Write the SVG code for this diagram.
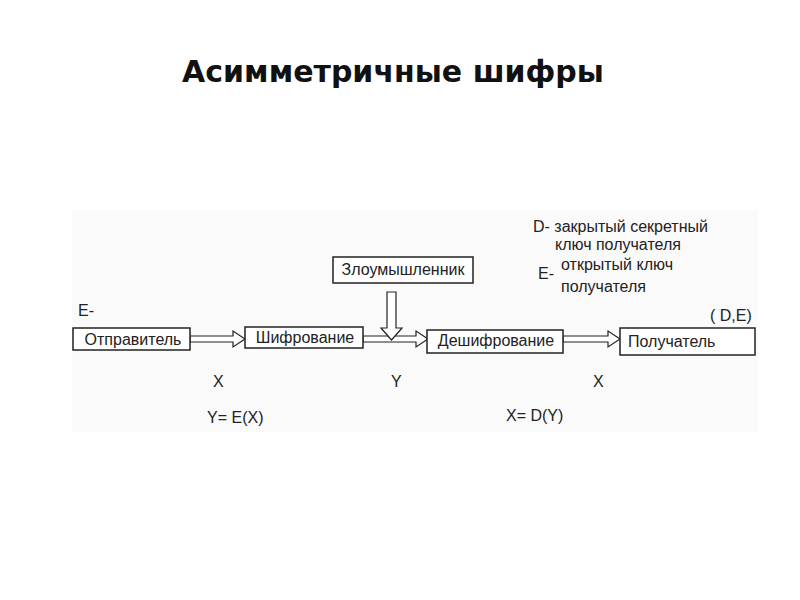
<svg xmlns="http://www.w3.org/2000/svg" width="800" height="600" viewBox="0 0 800 600">
<style>
.t{font-family:"Liberation Sans",Arial,sans-serif;font-size:16px;fill:#222}
.box{fill:#fff;stroke:#222;stroke-width:1.5}
.arr{fill:#fff;stroke:#222;stroke-width:1.2}
.title{font-family:"DejaVu Sans",Verdana,sans-serif;font-weight:bold;font-size:30px;fill:#111}
</style>
<rect width="800" height="600" fill="#fff"/>
<text class="title" x="393" y="82" text-anchor="middle">Асимметричные шифры</text>
<rect x="72" y="210" width="686" height="222" fill="#fafafa"/>
<g id="connectors">
<path class="arr" d="M190,336 H233 V331 L245,339 L233,347 V342 H190 Z"/>
<path class="arr" d="M363,336 H416 V331 L428,339 L416,347 V342 H363 Z"/>
<path class="arr" d="M563,336 H608 V331 L620,339 L608,347 V342 H563 Z"/>
<path class="arr" d="M387,292 V328 H381 L391.5,340 L402,328 H396 V292 Z"/>
</g>
<g id="sender"><rect class="box" x="73" y="328" width="117" height="22"/><text class="t" x="133" y="345" text-anchor="middle">Отправитель</text></g>
<g id="encrypt"><rect class="box" x="245" y="327" width="118" height="21"/><text class="t" x="305" y="343" text-anchor="middle">Шифрование</text></g>
<g id="attacker"><rect class="box" x="333" y="257" width="140" height="26"/><text class="t" x="403" y="275" text-anchor="middle">Злоумышленник</text></g>
<g id="decrypt"><rect class="box" x="427" y="330" width="136" height="23"/><text class="t" x="496" y="346" text-anchor="middle">Дешифрование</text></g>
<g id="receiver"><rect class="box" x="620" y="328" width="135" height="27"/><text class="t" x="628" y="347">Получатель</text></g>
<g id="labels">
<text class="t" x="78" y="316">E-</text>
<text class="t" x="710" y="321">( D,E)</text>
<text class="t" x="533" y="232">D- закрытый секретный</text>
<text class="t" x="555" y="250">ключ получателя</text>
<text class="t" x="538" y="279">E-</text>
<text class="t" x="561" y="270">открытый ключ</text>
<text class="t" x="561" y="292">получателя</text>
<text class="t" x="213" y="387">X</text>
<text class="t" x="391" y="387">Y</text>
<text class="t" x="593" y="387">X</text>
<text class="t" x="207" y="423">Y= E(X)</text>
<text class="t" x="506" y="421">X= D(Y)</text>
</g>
</svg>
